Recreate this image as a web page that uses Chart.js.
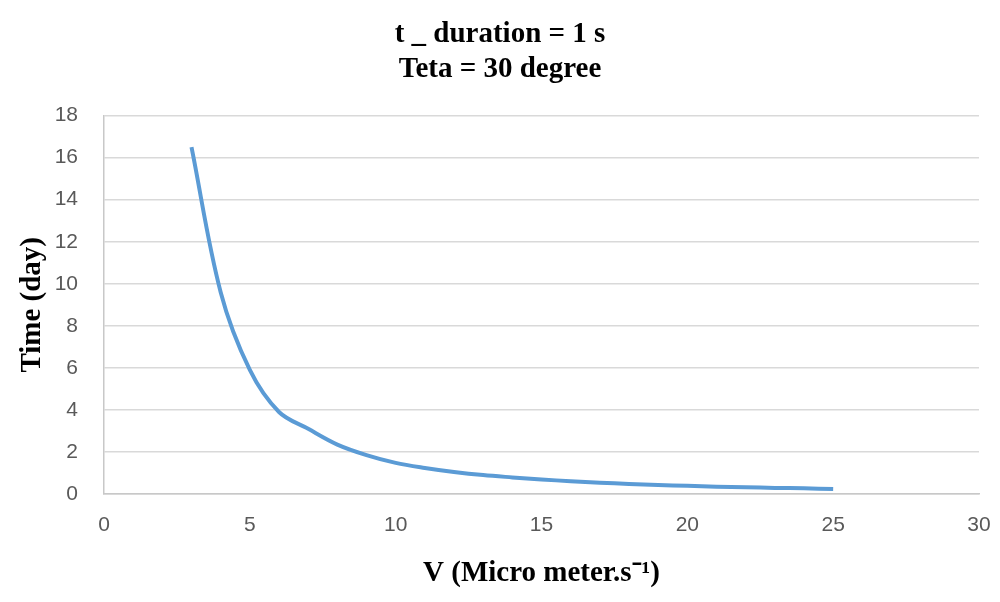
<!DOCTYPE html>
<html>
<head>
<meta charset="utf-8">
<script src="https://cdn.jsdelivr.net/npm/chart.js@4"></script>
<style>
  html, body { margin: 0; padding: 0; background: #fff; }
  #wrap { width: 1000px; height: 602px; }
</style>
</head>
<body>
<div id="wrap"><canvas id="chart" width="1000" height="602"></canvas></div>
<script>
// Data
const velocities = [3, 4, 5, 6, 7, 8, 9, 10, 11, 12, 13, 14, 15, 16, 17, 18, 19, 20, 21, 22, 23, 24, 25];
const timeDays = [16.5, 9.6, 5.9, 3.9, 3.1, 2.35, 1.85, 1.48, 1.24, 1.05, 0.9, 0.79, 0.69, 0.61, 0.54, 0.48, 0.43, 0.39, 0.35, 0.32, 0.29, 0.27, 0.24];
const titleLines = ["t _ duration = 1 s", "Teta = 30 degree"];
const xTitle = "V (Micro meter.s\u207B\u00B9)";
const yTitle = "Time (day)";

const points = velocities.map((v, i) => ({ x: v, y: timeDays[i] }));

const serif = "'Liberation Serif', 'Times New Roman', serif";
const sans = "'Liberation Sans', Arial, sans-serif";

new Chart(document.getElementById("chart"), {
    type: "line",
    data: {
        datasets: [{
            data: points,
            borderColor: "#5B9BD5",
            borderWidth: 4,
            pointRadius: 0,
            tension: 0.35,
            fill: false
        }]
    },
    options: {
        responsive: false,
        animation: false,
        layout: { padding: { left: 0, right: 0, top: 0, bottom: 11 } },
        plugins: {
            legend: { display: false },
            tooltip: { enabled: false },
            title: {
                display: true,
                text: titleLines,
                color: "#000",
                font: { family: serif, size: 29, weight: "bold", lineHeight: 1.2 },
                padding: { top: 17, bottom: 29 }
            }
        },
        scales: {
            x: {
                type: "linear",
                min: 0,
                max: 30,
                ticks: {
                    stepSize: 5,
                    color: "#595959",
                    font: { family: sans, size: 21 },
                    padding: 19
                },
                grid: { drawOnChartArea: false, drawTicks: false },
                border: { display: true, color: "#c8c8c8", width: 1.5 },
                title: {
                    display: true,
                    text: xTitle,
                    color: "#000",
                    font: { family: serif, size: 29, weight: "bold", lineHeight: 1.2 },
                    padding: { top: 17, bottom: 0 }
                },
                afterFit: (scale) => {
                    scale.height = 97;
                    scale.paddingLeft = 0;
                    scale.paddingRight = 21;
                }
            },
            y: {
                min: 0,
                max: 18,
                ticks: {
                    stepSize: 2,
                    color: "#595959",
                    font: { family: sans, size: 21 },
                    padding: 26
                },
                grid: { color: "#d9d9d9", lineWidth: 1.5, drawTicks: false },
                border: { display: true, color: "#c8c8c8", width: 1.5 },
                title: {
                    display: true,
                    text: yTitle,
                    color: "#000",
                    font: { family: serif, size: 29, weight: "bold", lineHeight: 1.2 },
                    padding: { top: 15, bottom: 0 }
                },
                afterFit: (scale) => { scale.width = 104; }
            }
        }
    }
});
</script>
</body>
</html>
